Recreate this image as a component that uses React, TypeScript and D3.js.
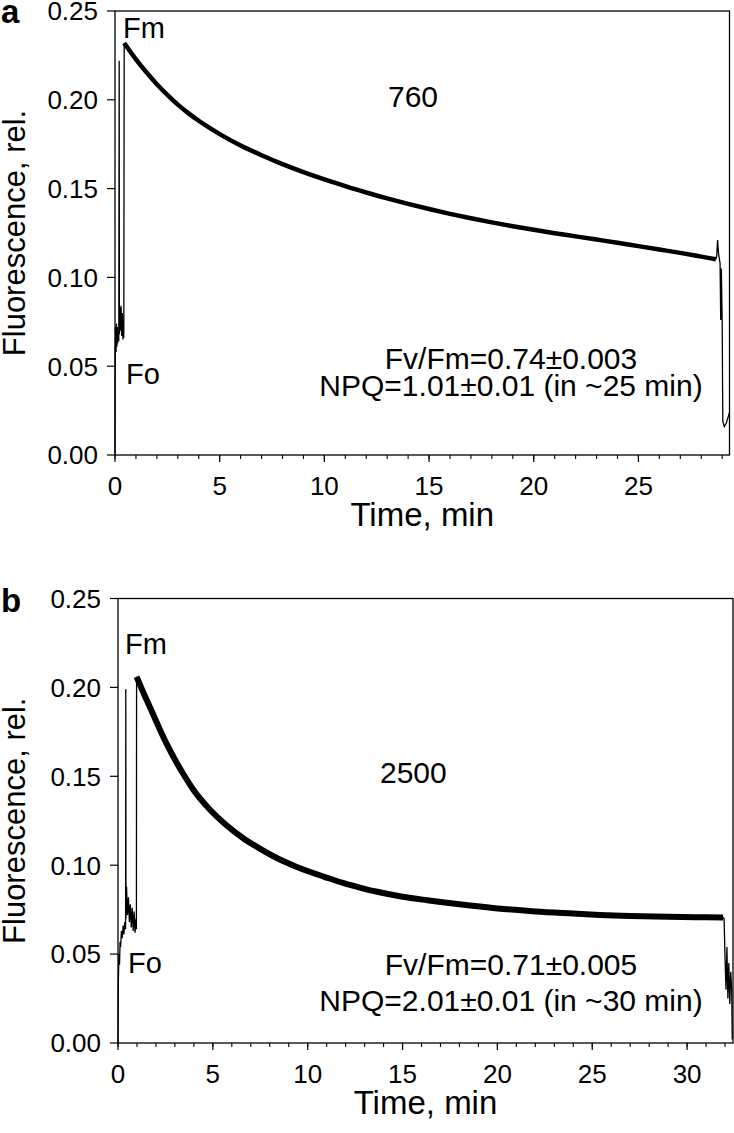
import React from "react";
import * as d3 from "d3";

// ---------- DATA ----------
const yTicks = [0, 0.05, 0.1, 0.15, 0.2, 0.25];
const xTicksA = [0, 5, 10, 15, 20, 25];
const xTicksB = [0, 5, 10, 15, 20, 25, 30];
const xMinorA = d3.range(0, 30, 1);
const xMinorB = d3.range(0, 33, 1);

// Panel a (760)
const aInduction: [number, number][] = [
  [0, 0.0], [0.01, 0.056], [0.03, 0.072], [0.05, 0.058], [0.07, 0.074], [0.09, 0.061],
  [0.11, 0.072], [0.13, 0.063], [0.15, 0.07], [0.18, 0.064], [0.2, 0.222], [0.21, 0.068],
  [0.23, 0.083], [0.26, 0.07], [0.29, 0.084], [0.32, 0.067], [0.35, 0.08], [0.38, 0.065],
  [0.4, 0.076], [0.42, 0.066], [0.44, 0.232],
];
const aDecay: [number, number][] = [
  [0.44, 0.232], [1.0, 0.2228], [1.5, 0.2155], [2.0, 0.2088], [2.5, 0.2028], [3.0, 0.1973],
  [3.5, 0.1925], [4.0, 0.1882], [4.5, 0.1843], [5.0, 0.1807], [6.0, 0.1743], [7.0, 0.1688],
  [8.0, 0.1638], [9.0, 0.1593], [10.0, 0.1552], [11.0, 0.1514], [12.0, 0.1478], [13.0, 0.1445],
  [14.0, 0.1414], [15.0, 0.1385], [16.0, 0.1358], [17.0, 0.1333], [18.0, 0.131], [19.0, 0.1288],
  [20.0, 0.1268], [21.0, 0.1249], [22.0, 0.1231], [23.0, 0.1213], [24.0, 0.1195], [25.0, 0.1176],
  [26.0, 0.1157], [27.0, 0.1138], [28.0, 0.1117], [28.7, 0.1102],
];
const aTail: [number, number][] = [
  [28.7, 0.1102], [28.74, 0.112], [28.78, 0.121], [28.83, 0.113], [28.9, 0.108], [28.93, 0.076],
  [28.96, 0.105], [29.0, 0.075], [29.03, 0.019], [29.1, 0.016], [29.2, 0.018], [29.3, 0.022],
  [29.35, 0.024],
];

// Panel b (2500)
const bInduction: [number, number][] = [
  [0, 0.0], [0.02, 0.035], [0.05, 0.05], [0.08, 0.044], [0.11, 0.057], [0.14, 0.054],
  [0.18, 0.063], [0.22, 0.059], [0.27, 0.066], [0.31, 0.061], [0.36, 0.068], [0.4, 0.064],
  [0.41, 0.199], [0.42, 0.07], [0.45, 0.088], [0.5, 0.072], [0.55, 0.082], [0.6, 0.068],
  [0.65, 0.078], [0.7, 0.065], [0.75, 0.076], [0.8, 0.063], [0.85, 0.074], [0.9, 0.062],
  [0.95, 0.07], [0.97, 0.064], [0.98, 0.206],
];
const bDecay: [number, number][] = [
  [0.98, 0.206], [1.3, 0.198], [1.7, 0.1885], [2.2, 0.1765], [2.6, 0.1675], [3.1, 0.1575],
  [3.5, 0.1503], [4.0, 0.142], [4.85, 0.1312], [5.7, 0.1226], [6.6, 0.1152], [7.5, 0.1092],
  [8.4, 0.1039], [9.3, 0.0996], [10.1, 0.0963], [11.0, 0.093], [11.9, 0.0899], [12.8, 0.0873],
  [13.6, 0.0852], [15.0, 0.0823], [16.3, 0.0803], [18.0, 0.078], [20.0, 0.0757], [22.0, 0.074],
  [24.0, 0.0728], [25.4, 0.072], [27.0, 0.0714], [29.0, 0.071], [31.0, 0.0707], [31.9, 0.0706],
];
const bTail: [number, number][] = [
  [31.9, 0.0706], [31.95, 0.07], [32.0, 0.048], [32.05, 0.03], [32.1, 0.054], [32.15, 0.025],
  [32.2, 0.045], [32.25, 0.022], [32.3, 0.04], [32.35, 0.03], [32.38, 0.002],
];

const FONT = "'Liberation Sans', Arial, Helvetica, sans-serif";

type PanelProps = {
  letter: string;
  letterY: number;
  left: number; right: number; top: number; bottom: number;
  xMax: number; xTicks: number[]; xMinor: number[];
  induction: [number, number][]; decay: [number, number][]; tail: [number, number][];
  decayWidth: number;
  label: string; labelPos: [number, number];
  fm: [number, number]; fo: [number, number];
  fvfm: string; npq: string; statsY: [number, number];
};

function Panel(p: PanelProps) {
  const x = d3.scaleLinear().domain([0, p.xMax]).range([p.left, p.right]);
  const y = d3.scaleLinear().domain([0, 0.25]).range([p.bottom, p.top]);
  const lineLin = d3.line<[number, number]>().x((d) => x(d[0])).y((d) => y(d[1]));
  const lineSmooth = d3
    .line<[number, number]>()
    .x((d) => x(d[0]))
    .y((d) => y(d[1]))
    .curve(d3.curveMonotoneX);
  const fmt = d3.format(".2f");
  const cx = (p.left + p.right) / 2;
  const cy = (p.top + p.bottom) / 2;
  return (
    <g fontFamily={FONT} fill="#000">
      <text x={1} y={p.letterY} fontSize={33} fontWeight="bold">{p.letter}</text>
      {/* frame */}
      <rect x={p.left} y={p.top} width={p.right - p.left} height={p.bottom - p.top}
        fill="none" stroke="#000" strokeWidth={1.3} />
      {/* y ticks */}
      {yTicks.map((t) => (
        <g key={"y" + t}>
          <line x1={p.left - 8} x2={p.left} y1={y(t)} y2={y(t)} stroke="#000" strokeWidth={1.2} />
          <text x={p.left - 17} y={y(t)} dy="0.36em" textAnchor="end" fontSize={26}>{fmt(t)}</text>
        </g>
      ))}
      {/* x minor ticks */}
      {p.xMinor.map((t) => (
        <line key={"xm" + t} x1={x(t)} x2={x(t)} y1={p.bottom} y2={p.bottom + 4} stroke="#000" strokeWidth={1.1} />
      ))}
      {p.xTicks.map((t) => (
        <g key={"x" + t}>
          <line x1={x(t)} x2={x(t)} y1={p.bottom} y2={p.bottom + 7} stroke="#000" strokeWidth={1.2} />
          <text x={x(t)} y={p.bottom + 40} textAnchor="middle" fontSize={26}>{t}</text>
        </g>
      ))}
      {/* axis titles */}
      <text x={cx} y={p.bottom + 71} textAnchor="middle" fontSize={33}>Time, min</text>
      <text transform={`translate(25,${cy}) rotate(-90)`} textAnchor="middle" fontSize={31}>Fluorescence, rel.</text>
      {/* traces */}
      <path d={lineLin(p.induction) || ""} fill="none" stroke="#000" strokeWidth={1.3} strokeLinejoin="miter" />
      <path d={lineSmooth(p.decay) || ""} fill="none" stroke="#000" strokeWidth={p.decayWidth} strokeLinejoin="round" />
      <path d={lineLin(p.tail) || ""} fill="none" stroke="#000" strokeWidth={1.3} />
      {/* annotations */}
      <text x={p.fm[0]} y={p.fm[1]} fontSize={29}>Fm</text>
      <text x={p.fo[0]} y={p.fo[1]} fontSize={29}>Fo</text>
      <text x={p.labelPos[0]} y={p.labelPos[1]} fontSize={30}>{p.label}</text>
      <text x={511} y={p.statsY[0]} textAnchor="middle" fontSize={30}>{p.fvfm}</text>
      <text x={511} y={p.statsY[1]} textAnchor="middle" fontSize={30}>{p.npq}</text>
    </g>
  );
}

export default function App() {
  return (
    <svg width={734} height={1133} style={{ position: "absolute", left: 0, top: 0, background: "#fff" }}>
      <rect x={0} y={0} width={734} height={1133} fill="#fff" />
      <Panel
        letter="a" letterY={23} left={115} right={729.5} top={11} bottom={455}
        xMax={29.35} xTicks={xTicksA} xMinor={xMinorA}
        induction={aInduction} decay={aDecay} tail={aTail} decayWidth={4.5}
        label="760" labelPos={[388, 107]}
        fm={[123, 38]} fo={[126, 384]}
        fvfm="Fv/Fm=0.74±0.003" npq="NPQ=1.01±0.01 (in ~25 min)" statsY={[369, 396]}
      />
      <Panel
        letter="b" letterY={612} left={118} right={733} top={598.5} bottom={1043}
        xMax={32.42} xTicks={xTicksB} xMinor={xMinorB}
        induction={bInduction} decay={bDecay} tail={bTail} decayWidth={6}
        label="2500" labelPos={[380, 783]}
        fm={[125, 654]} fo={[128, 973]}
        fvfm="Fv/Fm=0.71±0.005" npq="NPQ=2.01±0.01 (in ~30 min)" statsY={[975, 1011]}
      />
    </svg>
  );
}
